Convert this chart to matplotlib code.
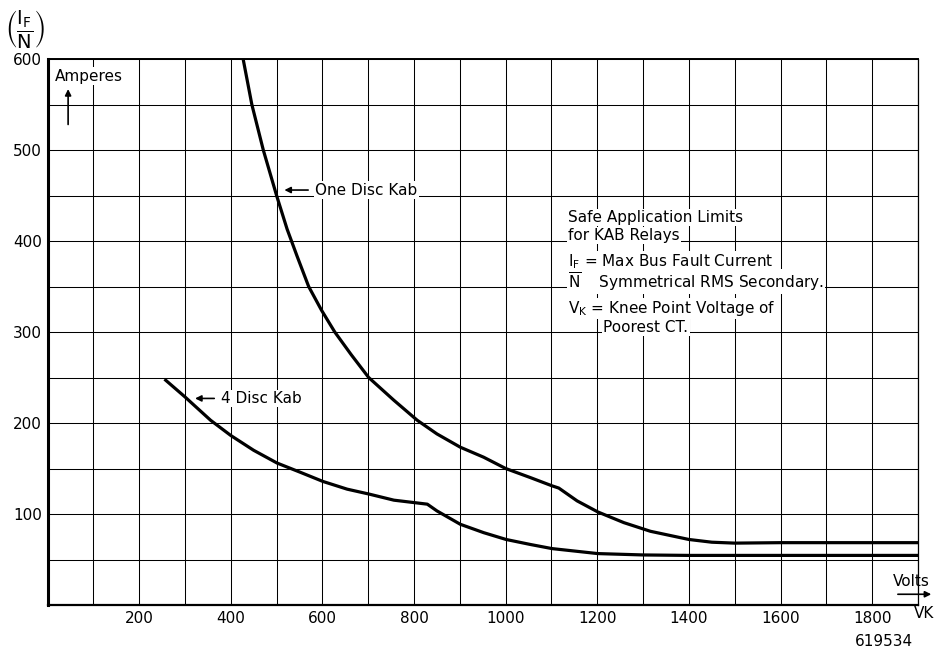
import numpy as np
import matplotlib.pyplot as plt

# values (volts vs amperes)
one_disc_v = [427, 446, 471, 500, 523, 545, 570, 598, 627, 663, 701, 756, 807, 850, 901, 952,
              1000, 1054, 1101, 1116, 1156, 1201, 1258, 1316, 1400, 1450, 1500, 1600, 1700, 1800, 1900]
one_disc_a = [600, 550, 500, 450, 413, 383, 350, 324, 300, 275, 250, 225, 203, 188, 173.4, 162.4,
              150, 140, 131, 128.5, 114.4, 102.3, 90.5, 81, 72, 69, 68, 68.5, 68.5, 68.5, 68.5]

four_disc_v = [258, 300, 356, 400, 450, 501, 552, 601, 654, 701, 756, 829, 850, 901, 952,
               1001, 1054, 1101, 1201, 1300, 1400, 1600, 1900]
four_disc_a = [247, 228.7, 203, 186.3, 170, 156, 145.8, 135.8, 127.3, 122, 115.2, 110.8, 103.4, 88.7, 79.5,
               72, 66.5, 62, 56.5, 55, 54.5, 54.5, 54.5]

x_ticks = [200, 400, 600, 800, 1000, 1200, 1400, 1600, 1800]
y_ticks = [100, 200, 300, 400, 500, 600]

plt.rcParams['font.family'] = ['DejaVu Sans']
plt.rcParams['mathtext.fontset'] = 'dejavusans'

fig = plt.figure(figsize=(9.44, 6.5), dpi=100)
ax = fig.add_axes([47.5 / 944, 1 - 605 / 650, (918 - 47.5) / 944, (605 - 59) / 650])

ax.set_xlim(0, 1900)
ax.set_ylim(0, 600)

ax.set_xticks(x_ticks)
ax.set_xticks(np.arange(100, 1901, 100), minor=True)
ax.set_yticks(y_ticks)
ax.set_yticks(np.arange(50, 601, 50), minor=True)
ax.tick_params(which='both', length=0, labelsize=11, colors='black')
ax.tick_params(axis='x', pad=4)
ax.tick_params(axis='y', pad=4)
ax.grid(which='both', color='black', linewidth=0.75)
ax.set_axisbelow(True)

ax.spines['left'].set_linewidth(2.2)
ax.spines['bottom'].set_linewidth(1.6)
ax.spines['top'].set_linewidth(1.4)
ax.spines['right'].set_linewidth(0.9)

ax.plot(one_disc_v, one_disc_a, color='black', linewidth=2.3, solid_joinstyle='round', zorder=3)
ax.plot(four_disc_v, four_disc_a, color='black', linewidth=2.3, solid_joinstyle='round', zorder=3)

white = dict(facecolor='white', edgecolor='none', pad=1.0)

# curve labels with arrows
ax.annotate('', xy=(511, 456), xytext=(575, 456),
            arrowprops=dict(arrowstyle='-|>', color='black', lw=1.2, mutation_scale=9))
ax.text(584, 456, 'One Disc Kab', fontsize=11, va='center', ha='left', bbox=white, zorder=4)

ax.annotate('', xy=(316, 227), xytext=(370, 227),
            arrowprops=dict(arrowstyle='-|>', color='black', lw=1.2, mutation_scale=9))
ax.text(378, 227, '4 Disc Kab', fontsize=11, va='center', ha='left', bbox=white, zorder=4)

# axis hint labels
ax.text(16, 581, 'Amperes', fontsize=11, va='center', ha='left', bbox=white, zorder=4)
ax.annotate('', xy=(45, 570), xytext=(45, 525),
            arrowprops=dict(arrowstyle='-|>', color='black', lw=1.2, mutation_scale=9))

ax.text(1885, 25.6, 'Volts', fontsize=11, va='center', ha='center', clip_on=False)
ax.annotate('', xy=(1935, 11.8), xytext=(1850, 11.8), annotation_clip=False,
            arrowprops=dict(arrowstyle='-|>', color='black', lw=1.2, mutation_scale=9))

# explanation block
ax.text(1136, 421, 'Safe Application Limits', fontsize=11, va='baseline', bbox=white, zorder=4)
ax.text(1136, 401, 'for KAB Relays', fontsize=11, va='baseline', bbox=white, zorder=4)
ax.text(1136, 372.5, r'I$_\mathregular{F}$ = Max Bus Fault Current', fontsize=11,
        va='baseline', bbox=white, zorder=4)
ax.text(1136, 348.5, r'$\overline{\mathregular{N}}$    Symmetrical RMS Secondary.', fontsize=11,
        va='baseline', zorder=4,
        bbox=dict(facecolor='white', edgecolor='none', boxstyle='square,pad=0.05'))
ax.text(1136, 321, r'V$_\mathregular{K}$ = Knee Point Voltage of', fontsize=11,
        va='baseline', bbox=white, zorder=4)
ax.text(1213, 300.3, 'Poorest CT.', fontsize=11, va='baseline', bbox=white, zorder=4)

# y axis quantity, corner labels
fig.text(25 / 944, 1 - 29 / 650,
         r'$\left(\dfrac{\mathregular{I_F}}{\mathregular{N}}\right)$',
         fontsize=14, ha='center', va='center')
fig.text(924 / 944, 1 - 613 / 650, 'VK', fontsize=11, ha='center', va='center')
fig.text(884 / 944, 1 - 641 / 650, '619534', fontsize=11, ha='center', va='center')

fig.savefig('out.png', dpi=100)
